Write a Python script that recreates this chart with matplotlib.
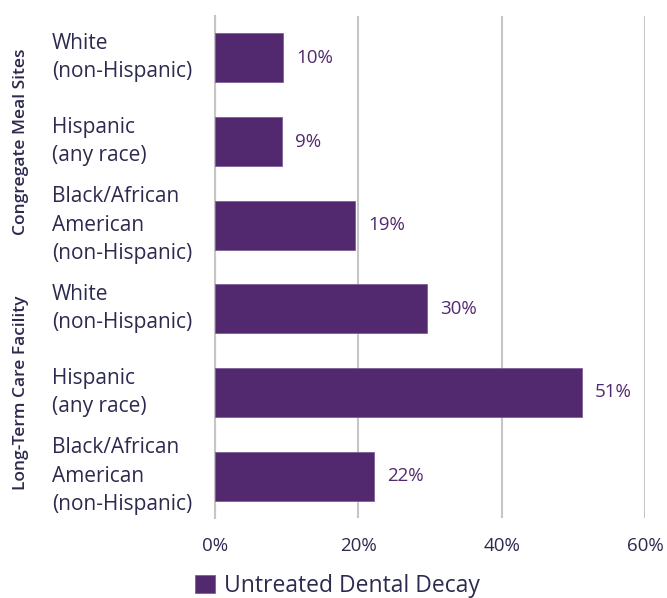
import numpy as np
import matplotlib.pyplot as plt
import matplotlib.transforms as mtransforms

plt.rcParams['font.family'] = ['Open Sans', 'DejaVu Sans']

categories = ['White\n(non-Hispanic)', 'Hispanic\n(any race)', 'Black/African\nAmerican\n(non-Hispanic)',
              'White\n(non-Hispanic)', 'Hispanic\n(any race)', 'Black/African\nAmerican\n(non-Hispanic)']
values = [9.5, 9.3, 19.5, 29.6, 51.2, 22.2]
value_labels = ['10%', '9%', '19%', '30%', '51%', '22%']
groups = ['Congregate Meal Sites', 'Long-Term Care Facility']
group_index = [0, 0, 0, 1, 1, 1]
xticks = [0, 20, 40, 60]
xtick_labels = ['0%', '20%', '40%', '60%']
series_name = 'Untreated Dental Decay'

bar_color = '#52296f'
text_color = '#2c2a4e'
grid_color = '#c6c6c6'

fig = plt.figure(figsize=(6.67, 5.98), dpi=100)
ax = fig.add_axes([0.3223, 0.1338, 0.967 - 0.3223, 0.9732 - 0.1338])

y = np.arange(len(values))
bars = ax.barh(y, values, height=0.585, color=bar_color, edgecolor='#7d5f98', linewidth=0.6,
               label=series_name, zorder=3)
ax.set_ylim(len(values) - 0.5, -0.5)
ax.set_xlim(0, 60)

for yi, v, lab in zip(y, values, value_labels):
    ax.annotate(lab, (v, yi), xytext=(9.5, 0), textcoords='offset points',
                va='center', ha='left', fontsize=13.5, color=bar_color)

ax.set_xticks(xticks)
ax.set_xticklabels(xtick_labels, fontsize=13.5, color=text_color)
ax.tick_params(axis='x', length=0, pad=14)
ax.set_yticks([])
ax.grid(axis='x', color=grid_color, linewidth=1.5, zorder=0)
for s in ['top', 'right', 'bottom']:
    ax.spines[s].set_visible(False)
ax.spines['left'].set_color(grid_color)
ax.spines['left'].set_linewidth(1.5)

trans = mtransforms.blended_transform_factory(fig.transFigure, ax.transData)
for yi, cat in zip(y, categories):
    ax.text(52 / 667, yi, cat, transform=trans, ha='left', va='center',
            fontsize=15, color=text_color, linespacing=1.45)

for gi, g in enumerate(groups):
    ys = [yy for yy, k in zip(y, group_index) if k == gi]
    ax.text(21 / 667, np.mean(ys), g, transform=trans, rotation=90, ha='center', va='center',
            fontsize=12.5, color=text_color, fontweight='semibold')

fig.legend(loc='center', bbox_to_anchor=(0.506, 1 - 586 / 598), frameon=False, fontsize=16.5,
           handlelength=0.85, handleheight=0.85, handletextpad=0.4, labelcolor=text_color)

fig.savefig('out.png', dpi=100)
